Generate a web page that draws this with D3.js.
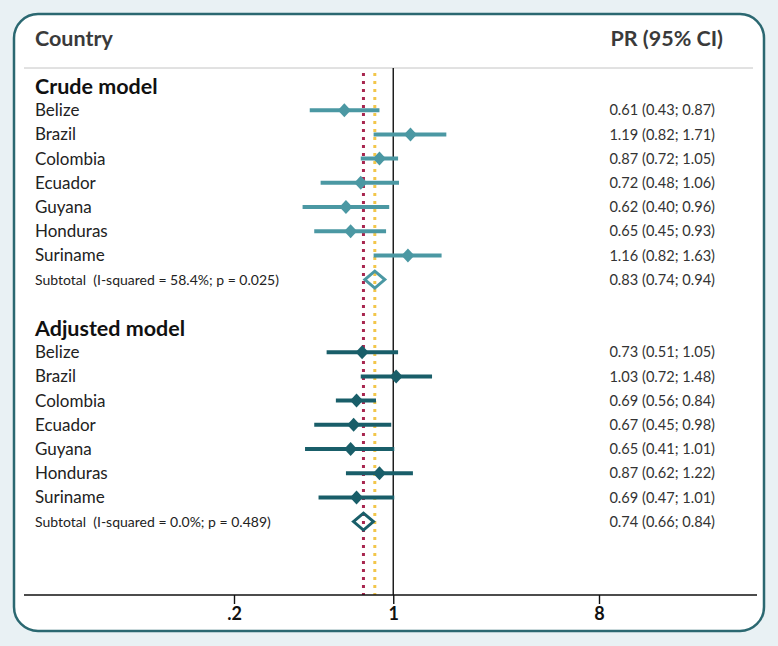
<!DOCTYPE html>
<html>
<head>
<meta charset="utf-8">
<script src="https://cdn.jsdelivr.net/npm/d3@7"></script>
<style>
  body { margin: 0; background: #e9f1f4; }
  svg { display: block; font-family: Lato, "Open Sans", sans-serif; }
  text { white-space: pre; }
</style>
</head>
<body>
<svg id="chart" width="778" height="646"></svg>
<script>
// Data
const countries = ['Belize', 'Brazil', 'Colombia', 'Ecuador', 'Guyana', 'Honduras', 'Suriname'];

const crudePR = [0.61, 1.19, 0.87, 0.72, 0.62, 0.65, 1.16];
const crudeLo = [0.43, 0.82, 0.72, 0.48, 0.40, 0.45, 0.82];
const crudeHi = [0.87, 1.71, 1.05, 1.06, 0.96, 0.93, 1.63];
const crudeTotal = [0.83, 0.74, 0.94];
const crudeHet = 'Subtotal  (I-squared = 58.4%; p = 0.025)';

const adjPR = [0.73, 1.03, 0.69, 0.67, 0.65, 0.87, 0.69];
const adjLo = [0.51, 0.72, 0.56, 0.45, 0.41, 0.62, 0.47];
const adjHi = [1.05, 1.48, 0.84, 0.98, 1.01, 1.22, 1.01];
const adjTotal = [0.74, 0.66, 0.84];
const adjHet = 'Subtotal  (I-squared = 0.0%; p = 0.489)';

const xTicks = [0.2, 1, 8];
const tickLabels = ['.2', '1', '8'];

// Layout
const rowStep = 24.2;
const firstRow = 86;
const axisY = 595;
const crudeColor = '#4b98a3';
const adjColor = '#195e69';

const fmt = d3.format('.2f');
const ciText = (p, lo, hi) => `${fmt(p)} (${fmt(lo)}; ${fmt(hi)})`;

const svg = d3.select('#chart');

// Card
svg.append('rect')
  .attr('x', 14).attr('y', 14)
  .attr('width', 750).attr('height', 617)
  .attr('rx', 24)
  .attr('fill', '#ffffff')
  .attr('stroke', '#2b6871')
  .attr('stroke-width', 2.5);

const x = d3.scaleLog().domain([0.2, 8]).range([234, 599]);
const rowY = i => firstRow + i * rowStep;

// Headers
svg.append('text').attr('x', 35).attr('y', 38).attr('dy', '0.35em')
  .attr('font-size', 21.5).attr('font-weight', 'bold').attr('fill', '#3a3a3a').text('Country');
svg.append('text').attr('x', 723).attr('y', 38).attr('dy', '0.35em')
  .attr('text-anchor', 'end')
  .attr('font-size', 21.5).attr('font-weight', 'bold').attr('fill', '#3a3a3a').text('PR (95% CI)');

svg.append('line')
  .attr('x1', 24).attr('x2', 753).attr('y1', 68).attr('y2', 68)
  .attr('stroke', '#c4c4c4').attr('stroke-width', 1);

// Reference lines
svg.append('line')
  .attr('x1', x(1)).attr('x2', x(1)).attr('y1', 68).attr('y2', axisY)
  .attr('stroke', '#111').attr('stroke-width', 1.4);

svg.append('line')
  .attr('x1', x(adjTotal[0])).attr('x2', x(adjTotal[0])).attr('y1', 73).attr('y2', axisY)
  .attr('stroke', '#a8264f').attr('stroke-width', 3).attr('stroke-dasharray', '3,5');
svg.append('line')
  .attr('x1', x(crudeTotal[0])).attr('x2', x(crudeTotal[0])).attr('y1', 73).attr('y2', axisY)
  .attr('stroke', '#f2c64a').attr('stroke-width', 3).attr('stroke-dasharray', '3,5');

// Draw one model block
function drawBlock(startRow, title, pr, lo, hi, total, het, color) {
  svg.append('text').attr('x', 35).attr('y', rowY(startRow)).attr('dy', '0.35em')
    .attr('font-size', 21.5).attr('font-weight', 'bold').attr('fill', '#111').text(title);

  const g = svg.append('g');
  countries.forEach((c, i) => {
    const y = rowY(startRow + 1 + i);
    g.append('text').attr('x', 35).attr('y', y).attr('dy', '0.35em')
      .attr('font-size', 17).attr('fill', '#222').text(c);
    g.append('line')
      .attr('x1', x(lo[i])).attr('x2', x(hi[i])).attr('y1', y).attr('y2', y)
      .attr('stroke', color).attr('stroke-width', 4);
    const px = x(pr[i]);
    g.append('path')
      .attr('d', `M${px - 6.5},${y} L${px},${y - 7} L${px + 6.5},${y} L${px},${y + 7} Z`)
      .attr('fill', color);
    g.append('text').attr('x', 715).attr('y', y).attr('dy', '0.35em')
      .attr('text-anchor', 'end').attr('font-size', 14.6).attr('fill', '#333')
      .text(ciText(pr[i], lo[i], hi[i]));
  });

  const ys = rowY(startRow + 8);
  g.append('text').attr('x', 35).attr('y', ys).attr('dy', '0.35em')
    .attr('font-size', 14).attr('fill', '#222').text(het);
  const tx = x(total[0]);
  g.append('path')
    .attr('d', `M${tx - 10},${ys} L${tx},${ys - 8.5} L${tx + 10},${ys} L${tx},${ys + 8.5} Z`)
    .attr('fill', 'none').attr('stroke', color).attr('stroke-width', 3);
  g.append('text').attr('x', 715).attr('y', ys).attr('dy', '0.35em')
    .attr('text-anchor', 'end').attr('font-size', 14.6).attr('fill', '#333')
    .text(ciText(total[0], total[1], total[2]));
}

drawBlock(0, 'Crude model', crudePR, crudeLo, crudeHi, crudeTotal, crudeHet, crudeColor);
drawBlock(10, 'Adjusted model', adjPR, adjLo, adjHi, adjTotal, adjHet, adjColor);

// Axis
svg.append('line')
  .attr('x1', 24).attr('x2', 757).attr('y1', axisY).attr('y2', axisY)
  .attr('stroke', '#111').attr('stroke-width', 1.4);

const axis = d3.axisBottom(x)
  .tickValues(xTicks)
  .tickSize(9)
  .tickFormat((d, i) => tickLabels[i]);

const axisG = svg.append('g')
  .attr('transform', `translate(0,${axisY})`)
  .call(axis);
axisG.select('.domain').remove();
axisG.selectAll('line').attr('stroke', '#111').attr('stroke-width', 1.4);
axisG.selectAll('text')
  .attr('font-family', 'Lato, sans-serif')
  .attr('font-size', 18).attr('font-weight', 'bold').attr('fill', '#111')
  .attr('y', 12);
</script>
</body>
</html>
